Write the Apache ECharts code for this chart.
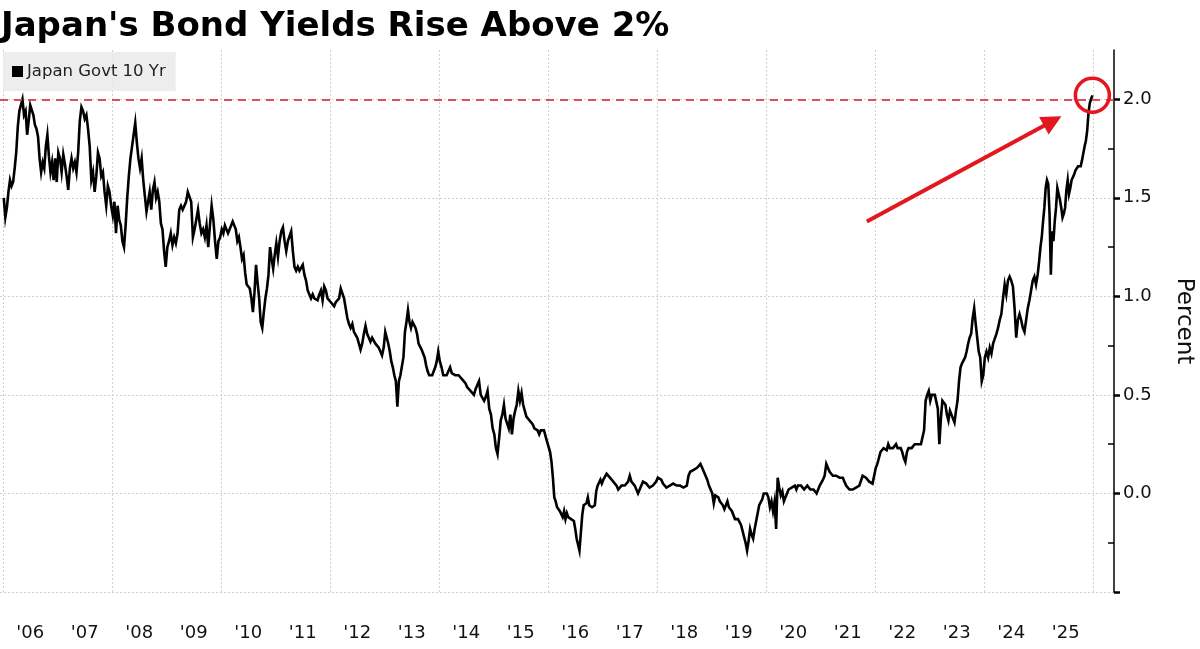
<!DOCTYPE html>
<html>
<head>
<meta charset="utf-8">
<script src="https://cdn.jsdelivr.net/npm/echarts@6/dist/echarts.min.js"></script>
<style>
html,body{margin:0;padding:0;background:#fff;}
#chart{width:1200px;height:649px;}
</style>
</head>
<body>
<div id="chart"></div>
<script>
// ---- Data (Japan Govt 10 Yr yield, %) ----
const years = [2006,2007,2008,2009,2010,2011,2012,2013,2014,2015,2016,2017,2018,2019,2020,2021,2022,2023,2024,2025];
const y2006 = [1.50,1.40,1.45,1.53,1.59,1.56,1.58,1.65,1.73,1.86,1.94,1.97,2.00,1.92,1.94,1.82,1.89,1.97,1.98,1.92,1.87,1.85,1.81,1.70,1.63,1.68,1.65,1.76,1.82,1.71,1.63,1.68,1.59,1.70,1.58];
const y2007 = [1.73,1.70,1.63,1.72,1.67,1.61,1.54,1.65,1.70,1.65,1.68,1.63,1.73,1.89,1.96,1.94,1.90,1.92,1.85,1.76,1.59,1.63,1.53,1.61,1.73,1.70,1.61,1.63,1.53,1.46,1.56,1.53,1.46];
const y2008 = [1.41,1.48,1.32,1.46,1.39,1.36,1.28,1.25,1.36,1.50,1.61,1.70,1.76,1.82,1.88,1.78,1.70,1.65,1.70,1.59,1.51,1.43,1.48,1.53,1.44,1.54,1.58,1.50,1.53,1.48,1.37,1.34,1.23,1.15];
const y2009 = [1.25,1.28,1.32,1.26,1.30,1.27,1.32,1.44,1.46,1.44,1.44,1.48,1.53,1.54,1.48,1.30,1.34,1.39,1.44,1.37,1.32,1.34,1.30,1.36,1.25,1.36,1.46,1.39,1.28,1.19,1.28,1.30];
const y2010 = [1.34,1.32,1.36,1.34,1.32,1.32,1.36,1.38,1.37,1.34,1.28,1.30,1.25,1.19,1.21,1.12,1.06,1.07,1.04,0.99,0.92,1.02,1.16,1.07,0.99,0.87,0.84,0.92,0.99,1.04,1.11,1.25,1.19,1.14,1.21];
const y2011 = [1.27,1.20,1.28,1.33,1.35,1.28,1.23,1.28,1.27,1.33,1.23,1.15,1.13,1.15,1.13,1.14,1.16,1.11,1.08,1.03,1.04,0.99,1.01,0.99,1.00,0.98,1.01,1.03,0.98,1.05,1.03,0.99,0.98];
const y2012 = [0.97,0.98,0.95,0.97,0.98,0.99,1.04,1.03,0.99,0.94,0.89,0.86,0.84,0.86,0.82,0.81,0.79,0.76,0.73,0.76,0.81,0.85,0.81,0.80,0.77,0.79,0.78,0.76,0.76,0.74,0.72,0.70,0.74];
const y2013 = [0.82,0.79,0.76,0.72,0.67,0.64,0.60,0.57,0.44,0.57,0.60,0.59,0.69,0.82,0.87,0.93,0.87,0.84,0.87,0.86,0.84,0.81,0.76,0.77,0.73,0.72,0.69,0.65,0.62,0.60,0.59,0.60,0.61,0.64,0.67,0.72];
const y2014 = [0.67,0.64,0.60,0.60,0.60,0.62,0.64,0.61,0.62,0.60,0.60,0.60,0.59,0.58,0.59,0.56,0.54,0.54,0.52,0.51,0.50,0.53,0.52,0.57,0.50,0.49,0.47,0.49,0.52,0.43,0.40,0.33];
const y2015 = [0.30,0.23,0.20,0.28,0.37,0.40,0.45,0.38,0.37,0.33,0.40,0.30,0.38,0.42,0.45,0.52,0.47,0.51,0.45,0.42,0.39,0.38,0.37,0.36,0.35,0.33,0.32,0.32,0.30,0.32,0.31,0.32,0.29,0.26];
const y2016 = [0.25,0.21,0.16,0.08,-0.02,-0.04,-0.07,-0.06,-0.09,-0.08,-0.12,-0.09,-0.13,-0.10,-0.12,-0.11,-0.13,-0.12,-0.14,-0.18,-0.23,-0.26,-0.29,-0.28,-0.11,-0.06,-0.07,-0.05,-0.02,-0.06,-0.05,-0.07,-0.07,-0.06,0.01,0.04,0.04,0.07,0.05];
const y2017 = [0.07,0.08,0.10,0.09,0.08,0.07,0.06,0.07,0.04,0.02,0.01,0.04,0.04,0.04,0.05,0.06,0.09,0.06,0.05,0.04,0.03,0.00,0.02,0.04,0.06,0.06,0.05,0.04,0.03,0.04,0.04,0.05,0.06];
const y2018 = [0.08,0.09,0.07,0.05,0.04,0.03,0.04,0.04,0.04,0.05,0.04,0.04,0.04,0.04,0.04,0.03,0.02,0.04,0.09,0.11,0.10,0.12,0.11,0.13,0.14,0.15,0.13,0.11,0.09,0.07,0.04,0.03];
const y2019 = [0.00,-0.05,-0.01,-0.02,-0.02,-0.04,-0.03,-0.06,-0.08,-0.06,-0.04,-0.07,-0.07,-0.09,-0.10,-0.13,-0.14,-0.13,-0.14,-0.16,-0.19,-0.22,-0.25,-0.29,-0.24,-0.18,-0.21,-0.23,-0.18,-0.14,-0.13,-0.06,-0.07,-0.03,0.00,0.01];
const y2020 = [0.00,-0.02,-0.07,-0.04,-0.09,-0.04,-0.18,0.08,0.03,-0.01,0.01,-0.04,-0.02,0.00,0.02,0.01,0.03,0.02,0.04,0.02,0.04,0.03,0.04,0.03,0.02,0.03,0.04,0.03,0.02,0.03,0.02,0.01,0.00,0.01,0.04];
const y2021 = [0.05,0.07,0.09,0.15,0.16,0.11,0.10,0.09,0.10,0.09,0.09,0.08,0.07,0.08,0.06,0.04,0.03,0.02,0.01,0.02,0.01,0.03,0.04,0.04,0.04,0.09,0.10,0.08,0.07,0.06,0.05,0.05,0.06];
const y2022 = [0.13,0.15,0.18,0.21,0.20,0.23,0.24,0.22,0.25,0.23,0.24,0.23,0.24,0.25,0.23,0.24,0.23,0.21,0.18,0.16,0.21,0.23,0.24,0.23,0.24,0.25,0.24,0.25,0.24,0.25,0.25,0.32,0.47,0.50,0.52];
const y2023 = [0.47,0.50,0.49,0.50,0.49,0.43,0.25,0.38,0.47,0.47,0.45,0.40,0.37,0.42,0.40,0.38,0.36,0.42,0.47,0.57,0.64,0.66,0.67,0.69,0.72,0.76,0.79,0.81,0.89,0.94,0.86,0.79,0.72,0.69,0.57,0.60];
const y2024 = [0.69,0.72,0.69,0.74,0.71,0.76,0.77,0.81,0.84,0.88,0.91,0.99,1.06,1.01,1.08,1.10,1.08,1.05,0.94,0.79,0.88,0.91,0.88,0.84,0.82,0.88,0.94,0.98,1.03,1.08,1.10,1.06,1.11];
const y2025 = [1.18,1.25,1.30,1.38,1.45,1.55,1.59,1.57,1.42,1.11,1.33,1.28,1.38,1.45,1.55,1.54,1.49,1.45,1.40,1.42,1.45,1.54,1.59,1.52,1.55,1.59,1.60,1.62,1.64,1.63,1.66,1.67,1.66,1.69,1.70,1.76,1.79,1.84,1.93,1.98,2.00,2.02];

const yTickValues  = [-0.5, 0, 0.5, 1.0, 1.5, 2.0];
const yLabelValues = [0, 0.5, 1.0, 1.5, 2.0];
const yMinorValues = [-0.25, 0.25, 0.75, 1.25, 1.75];
const xGridYears   = [2006,2008,2010,2012,2014,2016,2018,2020,2022,2024,2026];
const xLabelYears  = years; // labels centred in each year
const thresholdValue = 2.0;
const arrowFrom = [2021.85, 1.38];
const arrowTo   = [2025.26, 1.89];

// ---- Build series data ----
const yearly = [y2006,y2007,y2008,y2009,y2010,y2011,y2012,y2013,y2014,y2015,y2016,y2017,y2018,y2019,y2020,y2021,y2022,y2023,y2024,y2025];
const seriesData = [];
years.forEach((yr, k) => {
  const arr = yearly[k];
  arr.forEach((v, i) => seriesData.push([yr + (i + 0.5) / arr.length, v]));
});
const lastPoint = seriesData[seriesData.length - 1];

const FONT = 'DejaVu Sans';
const RED = '#e3171f';

const chart = echarts.init(document.getElementById('chart'), null, {renderer: 'canvas'});
chart.setOption({
  animation: false,
  backgroundColor: '#ffffff',
  textStyle: {fontFamily: FONT},
  title: {
    text: "Japan's Bond Yields Rise Above 2%",
    left: 1, top: 10, padding: 0,
    textStyle: {fontFamily: FONT, fontWeight: 'bold', fontSize: 34, color: '#000'}
  },
  legend: {
    data: ['Japan Govt 10 Yr'],
    left: 3, top: 52,
    padding: [11, 10, 11, 9],
    backgroundColor: 'rgba(234,234,234,0.85)',
    icon: 'rect', itemWidth: 11, itemHeight: 11, itemGap: 5,
    textStyle: {fontFamily: FONT, fontSize: 16.5, color: '#222', padding: [0,0,0,-1]},
    selectedMode: false
  },
  grid: {left: 0, right: 86, top: 50, bottom: 57, containLabel: false, outerBoundsMode: 'none'},
  xAxis: {
    type: 'value',
    min: 2005.945, max: 2026.385,
    axisLine: {show: false},
    axisTick: {show: false, customValues: xGridYears},
    splitLine: {show: true, lineStyle: {color: '#cfcfcf', width: 1, type: [2, 2]}},
    axisLabel: {
      customValues: xLabelYears.map(y => y + 0.5),
      formatter: v => "'" + String(Math.floor(v)).slice(2),
      fontFamily: FONT, fontSize: 18, color: '#111', margin: 32
    }
  },
  yAxis: [{
    type: 'value', position: 'right',
    min: -0.5, max: 2.25, interval: 0.5,
    axisLine: {show: true, onZero: false, lineStyle: {color: '#000', width: 1.5}},
    axisTick: {show: true, inside: false, length: 6, customValues: yTickValues, lineStyle: {color: '#000', width: 2.5}},
    axisLabel: {
      customValues: yLabelValues,
      formatter: v => v.toFixed(1),
      fontFamily: FONT, fontSize: 18, color: '#111', margin: 9
    },
    splitLine: {show: true, lineStyle: {color: '#cfcfcf', width: 1, type: [2, 2]}},
    name: 'Percent', nameLocation: 'middle', nameRotate: -90, nameGap: 58,
    nameTextStyle: {fontFamily: FONT, fontSize: 23, color: '#111'}
  }, {
    type: 'value', position: 'right',
    min: -0.5, max: 2.25, interval: 0.25,
    axisLine: {show: false},
    axisTick: {show: true, inside: true, length: 6, customValues: yMinorValues, lineStyle: {color: '#000', width: 1.5}},
    axisLabel: {show: false},
    splitLine: {show: false}
  }],
  series: [{
    name: 'Japan Govt 10 Yr',
    type: 'line',
    data: seriesData,
    showSymbol: false,
    symbol: 'none',
    color: '#000',
    lineStyle: {color: '#000', width: 2.6, join: 'miter'},
    z: 3,
    markLine: {
      silent: true,
      symbol: ['none', 'none'],
      label: {show: false},
      data: [
        {yAxis: thresholdValue, lineStyle: {color: 'rgba(214,60,80,0.9)', width: 1.8, type: [8, 6]}},
        [
          {coord: arrowFrom, symbol: 'none'},
          {coord: arrowTo, symbol: 'triangle', symbolSize: 20, lineStyle: {color: RED, width: 4, type: 'solid'}}
        ]
      ],
      lineStyle: {color: RED, width: 4, type: 'solid'},
      itemStyle: {color: RED}
    },
    markPoint: {
      silent: true,
      symbol: 'circle',
      symbolSize: 34,
      label: {show: false},
      itemStyle: {color: 'rgba(0,0,0,0)', borderColor: RED, borderWidth: 3.5},
      data: [{coord: lastPoint}]
    }
  }]
});
</script>
</body>
</html>
